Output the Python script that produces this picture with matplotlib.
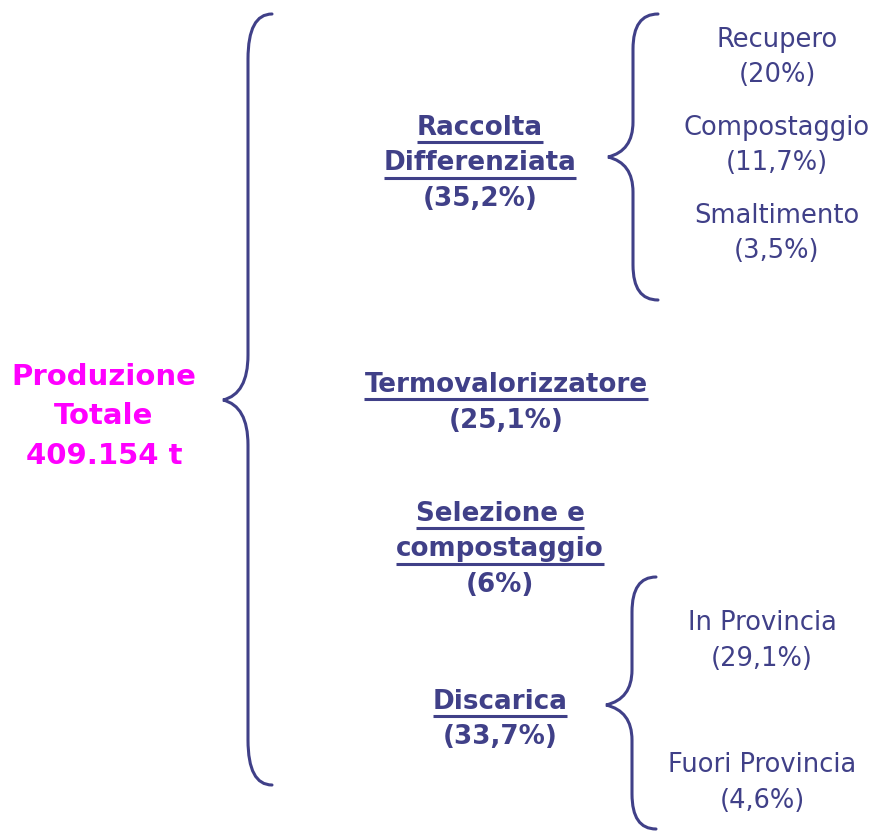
import matplotlib.pyplot as plt
from matplotlib.path import Path
from matplotlib.patches import PathPatch

NAVY = "#404088"
MAGENTA = "#FF00FF"

total_label = ["Produzione", "Totale", "409.154 t"]

main_items = [["Raccolta", "Differenziata"], ["Termovalorizzatore"], ["Selezione e", "compostaggio"], ["Discarica"]]
main_pcts = ["35,2%", "25,1%", "6%", "33,7%"]

rd_items = ["Recupero", "Compostaggio", "Smaltimento"]
rd_pcts = ["20%", "11,7%", "3,5%"]

disc_items = ["In Provincia", "Fuori Provincia"]
disc_pcts = ["29,1%", "4,6%"]

LINE = 35.5


def brace(ax, x_end, x_v, x_tip, y_top, y_mid, y_bot, r=45):
    verts = [(x_end, y_top), (x_v, y_top), (x_v, y_top + r),
             (x_v, y_mid - r),
             (x_v, y_mid - 6), (x_tip, y_mid),
             (x_v, y_mid + 6), (x_v, y_mid + r),
             (x_v, y_bot - r),
             (x_v, y_bot), (x_end, y_bot)]
    codes = [Path.MOVETO, Path.CURVE3, Path.CURVE3,
             Path.LINETO,
             Path.CURVE3, Path.CURVE3,
             Path.CURVE3, Path.CURVE3,
             Path.LINETO,
             Path.CURVE3, Path.CURVE3]
    ax.add_patch(PathPatch(Path(verts, codes), fill=False, edgecolor=NAVY, lw=2.2, capstyle="round"))


def block(ax, x, y, lines, pct, bold, underline=False, size=15):
    texts = []
    for i, s in enumerate(lines + ["(" + pct + ")"]):
        t = ax.text(x, y + i * LINE, s, ha="center", va="center", color=NAVY,
                    fontsize=size, fontweight="bold" if bold else "normal")
        if underline and i < len(lines):
            texts.append(t)
    return texts


fig = plt.figure(figsize=(8.74, 8.31), dpi=100)
ax = fig.add_axes([0, 0, 1, 1])
ax.set_xlim(0, 874)
ax.set_ylim(831, 0)
ax.axis("off")

for i, s in enumerate(total_label):
    ax.text(104, 377 + i * 39.5, s, ha="center", va="center", color=MAGENTA,
            fontsize=21, fontweight="bold")

brace(ax, 272, 248, 223, 14, 400, 785)
brace(ax, 658, 633, 608, 14, 157, 300, r=35)
brace(ax, 656, 632, 606, 577, 705, 829, r=35)

ul = []
ul += block(ax, 480, 128, main_items[0], main_pcts[0], True, True, 18.8)
ul += block(ax, 506, 385, main_items[1], main_pcts[1], True, True, 18.8)
ul += block(ax, 500, 514, main_items[2], main_pcts[2], True, True, 18.8)
ul += block(ax, 500, 702, main_items[3], main_pcts[3], True, True, 18.8)

for i, (s, p) in enumerate(zip(rd_items, rd_pcts)):
    block(ax, 777, 40 + i * 88, [s], p, False, size=18.5)
block(ax, 762, 623, [disc_items[0]], disc_pcts[0], False, size=18.5)
block(ax, 762, 765, [disc_items[1]], disc_pcts[1], False, size=18.5)

fig.canvas.draw()
inv = ax.transData.inverted()
for t in ul:
    bb = t.get_window_extent()
    (x0, y0), (x1, y1) = inv.transform([(bb.x0, bb.y0), (bb.x1, bb.y1)])
    ax.plot([x0, x1], [y0 + 1, y0 + 1], color=NAVY, lw=2.2, solid_capstyle="butt")

fig.savefig("out.png", dpi=100, facecolor="white")
